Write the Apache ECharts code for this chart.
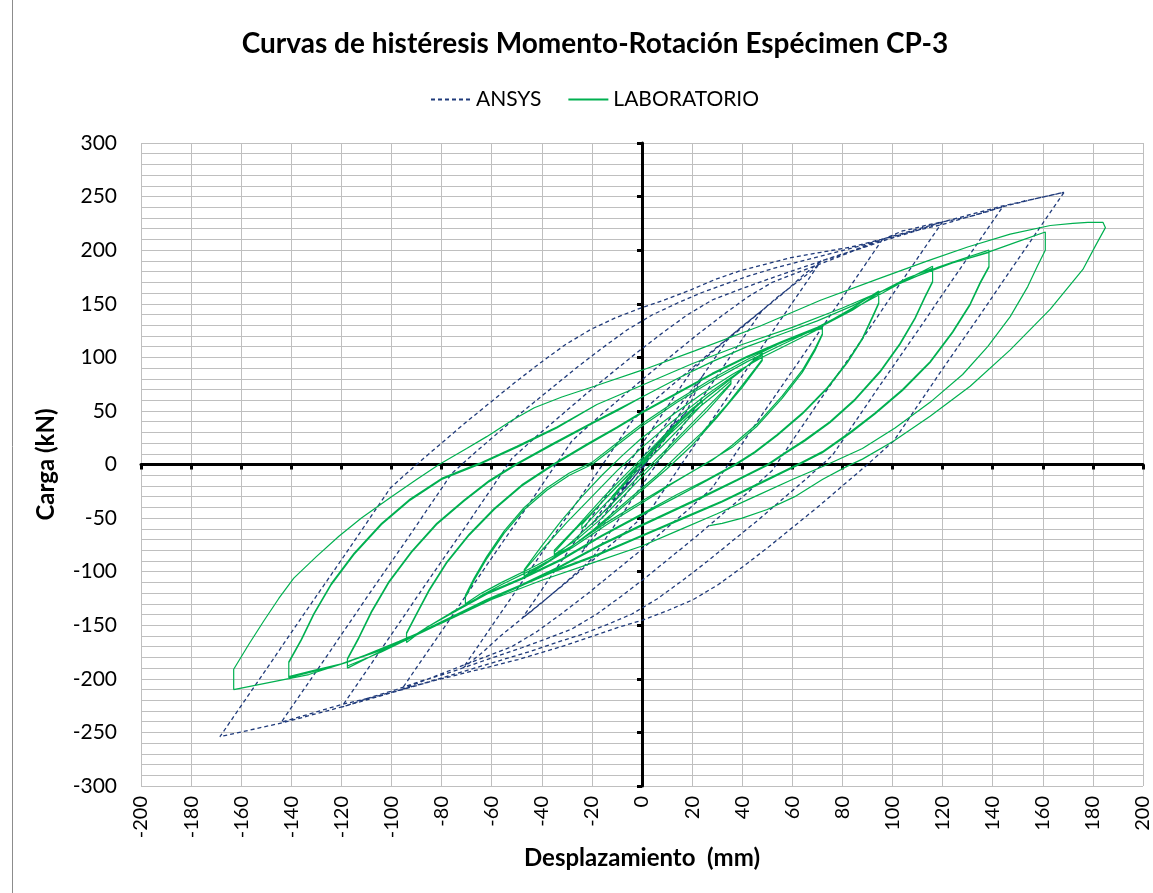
<!DOCTYPE html>
<html>
<head>
<meta charset="utf-8">
<title>Curvas de histéresis</title>
<script src="https://cdn.jsdelivr.net/npm/echarts/dist/echarts.min.js"></script>
<style>
  html, body { margin: 0; padding: 0; background: #ffffff; }
  #chart { width: 1153px; height: 893px; }
</style>
</head>
<body>
<div id="chart"></div>
<script>
// ---- Text ----
const chartTitle = 'Curvas de histéresis Momento-Rotación Espécimen CP-3';
const xTitle = 'Desplazamiento  (mm)';
const yTitle = 'Carga (kN)';
const seriesNames = ['ANSYS', 'LABORATORIO'];

// ---- Axis ranges [min, max, step] ----
const xRange = [-200, 200, 20];
const yRange = [-300, 300, 50];

// ---- ANSYS model: [displacement mm, load kN], in loading order ----
const ansysSmall = [[0,0],[3,9],[6,18],[8,24],[4,10],[0,-2],[-4,-14],[-8,-24],[-4,-10],[0,2],[4,14],[8,24],[12,36],[14,42],[8,24],[2,6],[-4,-10],[-10,-28],[-14,-42],[-8,-26],[-2,-8],[4,10],[10,28],[14,40],[18,50],[10,30],[2,8],[-6,-14],[-14,-36],[-20,-56],[-12,-36],[-4,-14],[4,8],[12,32],[18,50],[24,82],[16,50],[6,18],[-4,-20],[-14,-52],[-24,-82],[-16,-50],[-6,-18],[4,20],[14,52],[24,82],[34,116],[39,126],[44,136],[48,144]];
const ansys48 = [[38,110],[28,76],[14,28],[-2,-26],[-20,-88],[-30,-109],[-40,-129],[-48,-144],[-38,-110],[-28,-76],[-14,-28],[2,26],[20,88],[30,109],[40,129],[48,144],[54,156],[59,165],[64,174],[69,183],[71.5,190]];
const ansys72 = [[61.5,156],[51.5,122],[37.5,74],[21.5,20],[3.5,-42],[-6.5,-63],[-16.5,-83],[-26.5,-103],[-36.5,-122],[-46.5,-141],[-56.5,-160],[-64,-176],[-71.5,-190],[-61.5,-156],[-51.5,-122],[-37.5,-74],[-21.5,-20],[-3.5,42],[6.5,63],[16.5,83],[26.5,103],[36.5,122],[46.5,141],[56.5,160],[64,176],[71.5,190],[79,195],[84,199.5],[89,204],[96,210]];
const ansys96 = [[86,176],[76,142],[62,94],[46,40],[28,-22],[18,-43],[8,-63],[-2,-83],[-12,-102],[-22,-121],[-32,-139],[-42,-156],[-52,-170],[-62,-179],[-72,-188],[-82,-197],[-96,-210],[-86,-176],[-76,-142],[-62,-94],[-46,-40],[-28,22],[-18,43],[-8,63],[2,83],[12,102],[22,121],[32,139],[42,156],[52,170],[62,179],[72,188],[82,197],[96,210],[104,218],[109,220.5],[114,223.5],[120,226.5]];
const ansys120 = [[110,192.5],[100,158.5],[86,110.5],[70,56.5],[52,-5.5],[42,-26.5],[32,-46.5],[22,-66.5],[12,-85.5],[2,-104.5],[-8,-122.5],[-18,-139.5],[-28,-153.5],[-38,-162.5],[-48,-171],[-58,-179],[-68,-187],[-78,-195],[-88,-202],[-98,-210],[-108,-217],[-120,-226.5],[-110,-192.5],[-100,-158.5],[-86,-110.5],[-70,-56.5],[-52,5.5],[-42,26.5],[-32,46.5],[-22,66.5],[-12,85.5],[-2,104.5],[8,122.5],[18,139.5],[28,153.5],[38,162.5],[48,171],[58,179],[68,187],[78,195],[88,202],[98,210],[108,217],[120,226.5],[126,229],[132,232],[138,236],[144,240.5]];
const ansys144 = [[134,206.5],[124,172.5],[110,124.5],[94,70.5],[76,8.5],[66,-12.5],[56,-32.5],[46,-52.5],[36,-71.5],[26,-90.5],[16,-108.5],[6,-125.5],[-4,-139.5],[-14,-149.5],[-24,-158.5],[-34,-166],[-44,-174],[-54,-181],[-64,-188],[-74,-195],[-84,-202],[-96,-210],[-108,-217.5],[-120,-224],[-144,-240.5],[-134,-206.5],[-124,-172.5],[-110,-124.5],[-94,-70.5],[-76,-8.5],[-66,12.5],[-56,32.5],[-46,52.5],[-36,71.5],[-26,90.5],[-16,108.5],[-6,125.5],[4,139.5],[14,150.5],[24,160.5],[34,169],[44,177],[54,184],[64,190],[74,196],[84,202],[96,210],[108,217.5],[120,224],[144,240.5],[156,247.5],[168.5,254]];
const ansys168 = [[158.5,220],[148.5,186],[134.5,138],[118.5,84],[100.5,22],[90.5,1],[80.5,-19],[70.5,-39],[60.5,-58],[50.5,-77],[40.5,-95],[30.5,-112],[20.5,-126],[10.5,-136],[0.5,-145],[-9.5,-152],[-19.5,-160],[-29.5,-168],[-39.5,-175],[-49.5,-182],[-59.5,-188],[-71.5,-195],[-83.5,-202],[-95.5,-210],[-119.5,-226],[-143.5,-241],[-168.5,-254],[-158.5,-220],[-148.5,-186],[-134.5,-138],[-118.5,-84],[-100.5,-22],[-90.5,-1],[-80.5,19],[-70.5,39],[-60.5,58],[-50.5,77],[-40.5,95],[-30.5,112],[-20.5,126],[-10.5,137],[-0.5,146],[9.5,154],[19.5,163],[29.5,173],[39.5,181],[49.5,187],[59.5,193],[71.5,198],[83.5,203],[95.5,210],[119.5,226],[143.5,241],[168.5,254]];

// ---- Laboratory test: [displacement mm, load kN], in loading order ----
const labSmall = [[0,0],[5,14],[12,34],[12,31],[6,16],[0,2],[-6,-14],[-12,-33],[-12,-30],[-6,-14],[0,3],[6,18],[12,33],[18,46],[24,60],[24,56],[16,36],[8,17],[0,-1],[-8,-21],[-16,-40],[-24,-60],[-24,-56],[-14,-30],[-4,-6],[6,18],[16,42],[26,63],[35.5,80],[35.5,76],[28,58],[18,34],[8,10],[0,-8],[-10,-32],[-20,-55],[-28,-72],[-35,-86],[-35,-82],[-28,-64],[-18,-40],[-8,-16],[0,2],[10,26],[20,48],[30,67],[35.5,78],[35.5,75],[26,50],[14,22],[4,-2],[-6,-26],[-16,-50],[-26,-70],[-35,-84],[-35,-80]];
const labCycle48 = [[-26,-58],[-16,-32],[-6,-8],[0,6],[10,30],[20,52],[30,70],[40,88],[48,104],[48,98],[42,80],[34,56],[24,30],[14,8],[6,-10],[0,-22],[-10,-42],[-20,-62],[-30,-80],[-40,-95],[-47,-105],[-47,-99],[-40,-80],[-30,-54],[-20,-30],[-10,-6],[0,16],[12,40],[24,62],[36,82],[48,102],[48,97],[40,72],[30,44],[20,18],[10,-4],[0,-24],[-12,-48],[-24,-70],[-36,-88],[-47,-104],[-47,-98]];
const labCycle72 = [[-40,-76],[-32,-52],[-24,-30],[-16,-10],[-8,8],[0,25],[12,46],[24,66],[36,84],[48,100],[60,114],[72,128],[72,122],[69,108],[64,88],[56,64],[46,38],[36,18],[28,4],[22,-4],[12,-18],[0,-36],[-14,-56],[-28,-78],[-42,-96],[-56,-112],[-64,-122],[-70.5,-132],[-70.5,-124],[-67,-108],[-62,-88],[-55,-64],[-47,-42],[-38,-24],[-29,-10],[-20,0],[-10,18],[0,36],[14,58],[28,78],[42,96],[56,112],[66,123],[72,127],[72,121],[69,106],[64,86],[56,62],[46,36],[36,16],[22,-4],[10,-20],[0,-34],[-14,-54],[-28,-76],[-42,-94],[-56,-110],[-64,-120],[-70.5,-130],[-70.5,-122]];
const labCycle94 = [[-67,-106],[-62,-86],[-55,-62],[-47,-40],[-38,-22],[-29,-8],[-20,2],[-10,20],[0,38],[14,60],[28,80],[42,98],[56,114],[72,130],[84,146],[94.5,162],[94.5,151],[92,138],[88,118],[82,96],[74,72],[64,48],[54,28],[45,12],[37,0],[26,-14],[14,-28],[0,-46],[-16,-66],[-32,-88],[-48,-106],[-62,-120],[-76,-138],[-86,-152],[-94,-166],[-94,-158],[-90,-140],[-85,-118],[-78,-92],[-69,-66],[-59,-42],[-48,-20],[-35,0],[-22,18],[-10,34],[0,48],[14,66],[28,84],[42,100],[56,114],[70,127],[84,144],[94.5,160],[94.5,150],[92,137],[88,117],[82,95],[74,71],[64,47],[54,27],[45,11],[37,-1],[26,-15],[14,-30],[0,-47],[-16,-67],[-32,-89],[-48,-107],[-62,-121],[-76,-139],[-86,-152],[-94,-164],[-94,-157]];
const labCycle117 = [[-90,-139],[-85,-117],[-78,-91],[-69,-65],[-59,-41],[-48,-19],[-35,1],[-22,19],[-10,35],[0,49],[14,67],[28,85],[42,101],[56,115],[70,128],[84,145],[96,160],[106,173],[116,185],[116,171],[113,157],[109,137],[103,113],[95,87],[85,61],[75,40],[65,23],[57,11],[50,0],[38,-14],[24,-30],[12,-43],[0,-56],[-16,-74],[-32,-94],[-48,-112],[-62,-126],[-76,-142],[-90,-158],[-104,-174],[-117.6,-190],[-117.6,-182],[-113,-162],[-108,-138],[-101,-110],[-92,-82],[-82,-56],[-71,-34],[-61,-16],[-50,0],[-36,18],[-20,38],[-10,50],[0,63],[14,80],[28,96],[42,110],[56,122],[70,134],[84,148],[96,162],[106,174],[116,183],[116,170],[113,156],[109,136],[103,112],[95,86],[85,60],[75,39],[65,22],[57,10],[50,-1],[38,-15],[24,-31],[12,-44],[0,-57],[-16,-75],[-32,-95],[-48,-113],[-62,-127],[-76,-143],[-90,-159],[-104,-175],[-117.6,-188],[-117.6,-181]];
const labCycle140 = [[-113,-161],[-108,-137],[-101,-109],[-92,-81],[-82,-55],[-71,-33],[-61,-15],[-50,1],[-36,19],[-20,39],[-10,51],[0,63],[14,80],[28,96],[42,110],[56,122],[70,134],[84,148],[96,162],[108,174],[118,184],[128,192],[138.5,200],[138.5,185],[135,170],[131,150],[124,124],[115,96],[104,70],[93,48],[83,30],[72,12],[62,0],[48,-16],[32,-34],[16,-50],[0,-66],[-18,-84],[-36,-100],[-54,-118],[-72,-138],[-90,-158],[-106,-174],[-120,-186],[-131,-193],[-141,-199],[-141,-185],[-136,-164],[-131,-140],[-124,-112],[-115,-84],[-104,-56],[-93,-34],[-80,-14],[-65,0],[-50,16],[-34,34],[-18,56],[0,74],[20,94],[40,112],[60,128],[80,146],[96,162],[110,176],[124,188],[138.5,198],[138.5,184],[135,169],[131,149],[124,123],[115,95],[104,69],[93,47],[83,29],[72,11],[62,-1],[48,-17],[32,-35],[16,-51],[0,-67],[-18,-85],[-36,-101],[-54,-119],[-72,-139],[-90,-159],[-106,-175],[-120,-186],[-131,-192],[-141,-198],[-141,-184]];
const labCycle162 = [[-136,-163],[-131,-139],[-124,-111],[-115,-83],[-104,-55],[-93,-33],[-80,-13],[-65,1],[-50,17],[-34,35],[-18,56],[0,74],[20,94],[40,112],[60,128],[80,146],[96,162],[110,176],[124,188],[138,198],[150,208],[161,217],[161,200],[158,186],[154,166],[147,138],[138,110],[128,84],[115,58],[101,34],[88,15],[74,0],[60,-14],[45,-30],[30,-46],[15,-61],[0,-76],[-20,-92],[-40,-108],[-60,-126],[-80,-148],[-97,-165],[-117,-184],[-133,-196],[-148,-203],[-163,-210],[-163,-191]];
const labFinal = [[-157,-168],[-151,-146],[-145,-125],[-139,-106],[-130,-86],[-121,-67],[-112,-50],[-100,-30],[-90,-14],[-81,0],[-70,15],[-62,26],[-52,41],[-43,53],[-32,63],[-19,73],[0,88],[21,106],[47,129],[71,153],[94,173],[114,190],[130,203],[147,215],[163,223],[172,225],[178,226],[184,226],[185,221],[181,204],[176,182],[163,145],[147,107],[131,73],[115,45],[100.5,22],[88,5],[82,-1.5],[72,-14],[61,-30],[50,-42],[40,-50],[32,-55],[27,-57]];

// ---- Styles ----
const FONT = 'Lato, "Liberation Sans", Arial, sans-serif';
const GRID_COLOR = '#BFBFBF';
const ANSYS_COLOR = '#1F3A7A';
const LAB_COLOR = '#00B050';

const ansysPath = [].concat(ansysSmall, ansys48, ansys72, ansys96, ansys120, ansys144, ansys168);
const labPath = [].concat(labSmall, labCycle48, labCycle72, labCycle94, labCycle117, labCycle140, labCycle162, labFinal);

const chart = echarts.init(document.getElementById('chart'), null, { renderer: 'canvas' });

const option = {
  animation: false,
  backgroundColor: '#ffffff',
  title: {
    text: chartTitle,
    left: 590,
    top: 25,
    textAlign: 'center',
    textStyle: { fontFamily: FONT, fontSize: 28, fontWeight: 'bold', color: '#000000' }
  },
  legend: {
    data: seriesNames,
    left: 425,
    top: 84,
    itemWidth: 40,
    itemHeight: 14,
    itemGap: 26,
    itemStyle: { opacity: 0 },
    textStyle: { fontFamily: FONT, fontSize: 21, color: '#000000' }
  },
  grid: { left: 141, top: 143, width: 1006, height: 643, containLabel: false },
  graphic: [
    { type: 'line', shape: { x1: 12.5, y1: 0, x2: 12.5, y2: 893 }, style: { stroke: '#8C8C8C', lineWidth: 1 }, silent: true }
  ],
  xAxis: [
    {
      type: 'value', min: xRange[0], max: xRange[1], interval: xRange[2], position: 'bottom',
      axisLine: { show: false, onZero: false },
      axisTick: { show: false },
      axisLabel: { rotate: 90, margin: 10, fontFamily: FONT, fontSize: 20, color: '#000000' },
      splitLine: { show: true, lineStyle: { color: GRID_COLOR, width: 1 } },
      name: xTitle, nameLocation: 'middle', nameGap: 60,
      nameTextStyle: { fontFamily: FONT, fontSize: 24, fontWeight: 'bold', color: '#000000' }
    },
    {
      type: 'value', min: xRange[0], max: xRange[1], interval: xRange[2], position: 'bottom',
      axisLine: { show: true, onZero: true, onZeroAxisIndex: 0, lineStyle: { color: '#000000', width: 3 } },
      axisTick: { show: true, length: 5, lineStyle: { color: '#000000', width: 3 } },
      axisLabel: { show: false },
      splitLine: { show: false }
    }
  ],
  yAxis: [
    {
      type: 'value', min: yRange[0], max: yRange[1], interval: yRange[2], position: 'left',
      axisLine: { show: false, onZero: false },
      axisTick: { show: false },
      axisLabel: { margin: 24, fontFamily: FONT, fontSize: 21, color: '#000000' },
      splitLine: { show: true, lineStyle: { color: GRID_COLOR, width: 1 } },
      minorTick: { show: false, splitNumber: 5 },
      minorSplitLine: { show: true, lineStyle: { color: GRID_COLOR, width: 1 } },
      name: yTitle, nameLocation: 'middle', nameGap: 83, nameRotate: 90,
      nameTextStyle: { fontFamily: FONT, fontSize: 24, fontWeight: 'bold', color: '#000000' }
    },
    {
      type: 'value', min: yRange[0], max: yRange[1], interval: yRange[2], position: 'left',
      axisLine: { show: true, onZero: true, onZeroAxisIndex: 0, lineStyle: { color: '#000000', width: 3 } },
      axisTick: { show: true, length: 5, lineStyle: { color: '#000000', width: 3 } },
      axisLabel: { show: false },
      splitLine: { show: false }
    }
  ],
  series: [
    {
      name: seriesNames[0], type: 'line', xAxisIndex: 0, yAxisIndex: 0,
      data: ansysPath, symbol: 'none', showSymbol: false, silent: true, z: 3,
      lineStyle: { color: ANSYS_COLOR, width: 1.3, type: [4, 3] },
      itemStyle: { color: ANSYS_COLOR }
    },
    {
      name: seriesNames[1], type: 'line', xAxisIndex: 0, yAxisIndex: 0,
      data: labPath, symbol: 'none', showSymbol: false, silent: true, z: 4,
      lineStyle: { color: LAB_COLOR, width: 1.2, type: 'solid' },
      itemStyle: { color: LAB_COLOR }
    }
  ]
};

chart.setOption(option);
</script>
</body>
</html>
